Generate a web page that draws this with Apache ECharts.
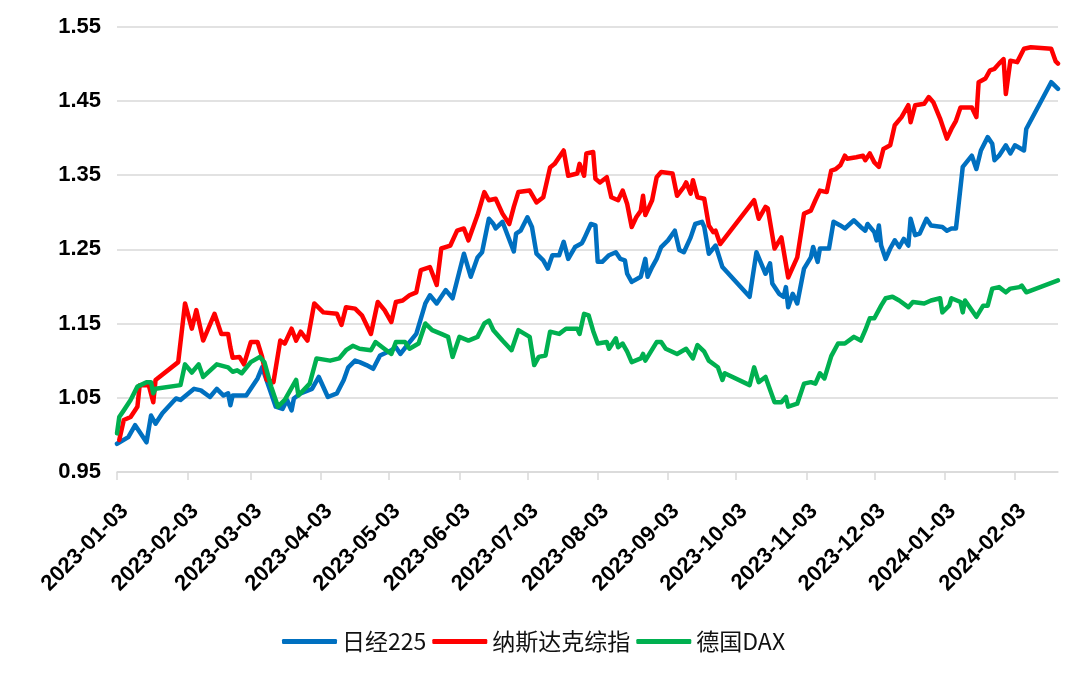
<!DOCTYPE html>
<html>
<head>
<meta charset="utf-8">
<script src="https://cdn.jsdelivr.net/npm/echarts@6/dist/echarts.min.js"></script>
<style>
html,body{margin:0;padding:0;background:#ffffff;}
#chart{width:1080px;height:675px;}
</style>
</head>
<body>
<div id="chart"></div>
<script>
const seriesNames = ['日经225', '纳斯达克综指', '德国DAX'];
const seriesColors = ['#0070C0', '#FF0000', '#00B050'];
const xMin = '2023-01-03';
const xMax = '2024-02-22';
const xTickDates = ['2023-01-03','2023-02-03','2023-03-03','2023-04-03','2023-05-03','2023-06-03','2023-07-03','2023-08-03','2023-09-03','2023-10-03','2023-11-03','2023-12-03','2024-01-03','2024-02-03'];
const yMin = 0.95, yMax = 1.55, yStep = 0.1;

const nikkei = [
['2023-01-03',0.988],['2023-01-08',0.997],['2023-01-11',1.013],['2023-01-13',1.004],['2023-01-16',0.990],['2023-01-18',1.026],['2023-01-20',1.015],['2023-01-23',1.029],['2023-01-29',1.049],['2023-01-31',1.047],['2023-02-06',1.062],['2023-02-09',1.060],['2023-02-13',1.051],['2023-02-16',1.062],['2023-02-19',1.053],['2023-02-21',1.056],['2023-02-22',1.040],['2023-02-23',1.053],['2023-03-01',1.053],['2023-03-06',1.076],['2023-03-08',1.091],['2023-03-14',1.038],['2023-03-17',1.035],['2023-03-19',1.047],['2023-03-21',1.033],['2023-03-22',1.049],['2023-03-25',1.056],['2023-03-30',1.062],['2023-04-02',1.078],['2023-04-06',1.051],['2023-04-10',1.056],['2023-04-13',1.074],['2023-04-15',1.091],['2023-04-18',1.100],['2023-04-20',1.098],['2023-04-23',1.094],['2023-04-26',1.089],['2023-04-29',1.107],['2023-05-04',1.114],['2023-05-06',1.118],['2023-05-08',1.109],['2023-05-11',1.121],['2023-05-15',1.136],['2023-05-19',1.177],['2023-05-21',1.188],['2023-05-24',1.177],['2023-05-28',1.195],['2023-05-31',1.184],['2023-06-05',1.244],['2023-06-08',1.213],['2023-06-11',1.239],['2023-06-13',1.246],['2023-06-16',1.291],['2023-06-18',1.284],['2023-06-19',1.278],['2023-06-22',1.287],['2023-06-27',1.247],['2023-06-28',1.271],['2023-06-30',1.275],['2023-07-03',1.293],['2023-07-05',1.280],['2023-07-07',1.244],['2023-07-10',1.235],['2023-07-12',1.224],['2023-07-14',1.242],['2023-07-17',1.242],['2023-07-19',1.260],['2023-07-21',1.237],['2023-07-24',1.253],['2023-07-27',1.258],['2023-07-28',1.264],['2023-07-31',1.284],['2023-08-02',1.282],['2023-08-03',1.233],['2023-08-05',1.233],['2023-08-08',1.242],['2023-08-11',1.246],['2023-08-13',1.237],['2023-08-15',1.235],['2023-08-16',1.217],['2023-08-18',1.206],['2023-08-22',1.213],['2023-08-24',1.237],['2023-08-25',1.213],['2023-08-27',1.226],['2023-08-29',1.237],['2023-08-31',1.253],['2023-09-03',1.262],['2023-09-06',1.275],['2023-09-08',1.249],['2023-09-10',1.246],['2023-09-13',1.266],['2023-09-15',1.284],['2023-09-18',1.287],['2023-09-19',1.280],['2023-09-21',1.244],['2023-09-24',1.255],['2023-09-27',1.226],['2023-10-09',1.186],['2023-10-12',1.246],['2023-10-16',1.217],['2023-10-18',1.231],['2023-10-19',1.204],['2023-10-22',1.190],['2023-10-24',1.186],['2023-10-25',1.199],['2023-10-26',1.172],['2023-10-28',1.190],['2023-10-30',1.177],['2023-11-02',1.224],['2023-11-05',1.239],['2023-11-06',1.253],['2023-11-08',1.233],['2023-11-09',1.251],['2023-11-13',1.251],['2023-11-15',1.287],['2023-11-18',1.282],['2023-11-20',1.278],['2023-11-24',1.289],['2023-11-27',1.280],['2023-11-29',1.275],['2023-11-30',1.284],['2023-12-03',1.273],['2023-12-04',1.262],['2023-12-05',1.282],['2023-12-06',1.255],['2023-12-08',1.237],['2023-12-10',1.251],['2023-12-12',1.262],['2023-12-14',1.253],['2023-12-16',1.264],['2023-12-18',1.255],['2023-12-19',1.291],['2023-12-21',1.269],['2023-12-23',1.271],['2023-12-26',1.291],['2023-12-28',1.282],['2024-01-02',1.280],['2024-01-04',1.275],['2024-01-06',1.278],['2024-01-08',1.278],['2024-01-11',1.361],['2024-01-15',1.376],['2024-01-17',1.358],['2024-01-19',1.383],['2024-01-22',1.401],['2024-01-24',1.392],['2024-01-25',1.370],['2024-01-27',1.376],['2024-01-30',1.390],['2024-02-01',1.379],['2024-02-03',1.390],['2024-02-07',1.383],['2024-02-08',1.412],['2024-02-19',1.475],['2024-02-22',1.466]
];

const nasdaq = [
['2023-01-04',0.993],['2023-01-06',1.020],['2023-01-09',1.024],['2023-01-12',1.038],['2023-01-13',1.067],['2023-01-17',1.067],['2023-01-19',1.044],['2023-01-20',1.074],['2023-01-30',1.098],['2023-02-02',1.177],['2023-02-05',1.143],['2023-02-07',1.168],['2023-02-10',1.127],['2023-02-15',1.163],['2023-02-18',1.136],['2023-02-21',1.136],['2023-02-22',1.118],['2023-02-23',1.104],['2023-02-26',1.105],['2023-02-28',1.095],['2023-03-03',1.125],['2023-03-06',1.125],['2023-03-08',1.105],['2023-03-10',1.074],['2023-03-13',1.071],['2023-03-16',1.127],['2023-03-18',1.123],['2023-03-21',1.143],['2023-03-23',1.127],['2023-03-25',1.139],['2023-03-28',1.127],['2023-03-31',1.177],['2023-04-04',1.165],['2023-04-10',1.163],['2023-04-12',1.148],['2023-04-14',1.172],['2023-04-18',1.170],['2023-04-21',1.161],['2023-04-25',1.136],['2023-04-28',1.179],['2023-05-01',1.168],['2023-05-04',1.152],['2023-05-06',1.179],['2023-05-09',1.181],['2023-05-12',1.188],['2023-05-15',1.192],['2023-05-17',1.222],['2023-05-21',1.226],['2023-05-24',1.202],['2023-05-26',1.251],['2023-05-30',1.255],['2023-06-02',1.275],['2023-06-05',1.278],['2023-06-07',1.262],['2023-06-11',1.296],['2023-06-14',1.327],['2023-06-16',1.316],['2023-06-19',1.318],['2023-06-22',1.298],['2023-06-25',1.284],['2023-06-27',1.307],['2023-06-29',1.327],['2023-07-04',1.329],['2023-07-07',1.313],['2023-07-10',1.320],['2023-07-13',1.360],['2023-07-15',1.365],['2023-07-19',1.383],['2023-07-21',1.349],['2023-07-25',1.352],['2023-07-26',1.365],['2023-07-28',1.349],['2023-07-29',1.379],['2023-08-01',1.381],['2023-08-02',1.345],['2023-08-04',1.340],['2023-08-07',1.347],['2023-08-09',1.320],['2023-08-12',1.316],['2023-08-14',1.329],['2023-08-16',1.311],['2023-08-18',1.280],['2023-08-20',1.293],['2023-08-22',1.302],['2023-08-23',1.322],['2023-08-24',1.296],['2023-08-27',1.316],['2023-08-29',1.347],['2023-08-31',1.354],['2023-09-05',1.352],['2023-09-07',1.322],['2023-09-10',1.334],['2023-09-11',1.340],['2023-09-13',1.325],['2023-09-14',1.343],['2023-09-16',1.320],['2023-09-19',1.318],['2023-09-21',1.282],['2023-09-23',1.273],['2023-09-24',1.275],['2023-09-26',1.257],['2023-10-11',1.316],['2023-10-13',1.291],['2023-10-16',1.307],['2023-10-17',1.305],['2023-10-20',1.251],['2023-10-23',1.266],['2023-10-26',1.212],['2023-10-30',1.239],['2023-11-02',1.298],['2023-11-05',1.302],['2023-11-07',1.316],['2023-11-09',1.329],['2023-11-12',1.327],['2023-11-14',1.356],['2023-11-16',1.358],['2023-11-18',1.363],['2023-11-20',1.376],['2023-11-21',1.372],['2023-11-25',1.374],['2023-11-28',1.376],['2023-11-29',1.370],['2023-12-01',1.379],['2023-12-03',1.367],['2023-12-05',1.361],['2023-12-07',1.385],['2023-12-10',1.390],['2023-12-12',1.417],['2023-12-15',1.428],['2023-12-18',1.444],['2023-12-19',1.421],['2023-12-21',1.444],['2023-12-25',1.446],['2023-12-27',1.455],['2023-12-29',1.448],['2024-01-01',1.426],['2024-01-04',1.399],['2024-01-06',1.412],['2024-01-08',1.423],['2024-01-10',1.441],['2024-01-15',1.441],['2024-01-17',1.428],['2024-01-18',1.475],['2024-01-21',1.480],['2024-01-23',1.491],['2024-01-25',1.493],['2024-01-27',1.500],['2024-01-29',1.506],['2024-01-30',1.459],['2024-02-01',1.504],['2024-02-04',1.502],['2024-02-07',1.520],['2024-02-10',1.522],['2024-02-19',1.520],['2024-02-21',1.503],['2024-02-22',1.500]
];

const dax = [
['2023-01-03',1.002],['2023-01-04',1.024],['2023-01-06',1.033],['2023-01-09',1.047],['2023-01-12',1.065],['2023-01-16',1.071],['2023-01-18',1.071],['2023-01-19',1.056],['2023-01-20',1.062],['2023-01-31',1.067],['2023-02-02',1.095],['2023-02-05',1.084],['2023-02-08',1.095],['2023-02-10',1.078],['2023-02-16',1.095],['2023-02-21',1.091],['2023-02-23',1.085],['2023-02-25',1.087],['2023-02-27',1.083],['2023-03-03',1.098],['2023-03-07',1.105],['2023-03-09',1.098],['2023-03-12',1.065],['2023-03-15',1.038],['2023-03-18',1.047],['2023-03-23',1.074],['2023-03-24',1.053],['2023-03-29',1.069],['2023-04-01',1.103],['2023-04-07',1.100],['2023-04-11',1.103],['2023-04-14',1.114],['2023-04-17',1.120],['2023-04-20',1.116],['2023-04-25',1.114],['2023-04-27',1.125],['2023-04-30',1.118],['2023-05-04',1.109],['2023-05-06',1.125],['2023-05-10',1.125],['2023-05-12',1.116],['2023-05-16',1.123],['2023-05-19',1.150],['2023-05-22',1.141],['2023-05-26',1.136],['2023-05-29',1.132],['2023-05-31',1.105],['2023-06-03',1.132],['2023-06-07',1.127],['2023-06-11',1.132],['2023-06-14',1.150],['2023-06-16',1.154],['2023-06-18',1.141],['2023-06-22',1.127],['2023-06-26',1.114],['2023-06-29',1.141],['2023-07-04',1.132],['2023-07-06',1.094],['2023-07-08',1.105],['2023-07-11',1.107],['2023-07-13',1.139],['2023-07-17',1.136],['2023-07-20',1.143],['2023-07-25',1.143],['2023-07-26',1.136],['2023-07-28',1.163],['2023-07-30',1.161],['2023-08-01',1.140],['2023-08-03',1.123],['2023-08-07',1.125],['2023-08-08',1.116],['2023-08-11',1.130],['2023-08-12',1.118],['2023-08-14',1.123],['2023-08-16',1.112],['2023-08-18',1.098],['2023-08-22',1.103],['2023-08-23',1.109],['2023-08-24',1.100],['2023-08-29',1.125],['2023-08-31',1.125],['2023-09-02',1.116],['2023-09-07',1.109],['2023-09-11',1.116],['2023-09-14',1.103],['2023-09-16',1.121],['2023-09-19',1.112],['2023-09-21',1.100],['2023-09-25',1.091],['2023-09-27',1.074],['2023-09-28',1.083],['2023-10-09',1.067],['2023-10-11',1.091],['2023-10-13',1.071],['2023-10-16',1.078],['2023-10-20',1.044],['2023-10-23',1.044],['2023-10-25',1.051],['2023-10-26',1.038],['2023-10-30',1.042],['2023-11-02',1.069],['2023-11-05',1.071],['2023-11-07',1.069],['2023-11-09',1.083],['2023-11-11',1.076],['2023-11-14',1.106],['2023-11-17',1.123],['2023-11-20',1.123],['2023-11-24',1.132],['2023-11-27',1.127],['2023-11-29',1.141],['2023-12-01',1.157],['2023-12-03',1.157],['2023-12-06',1.174],['2023-12-08',1.184],['2023-12-11',1.186],['2023-12-14',1.181],['2023-12-18',1.172],['2023-12-20',1.179],['2023-12-25',1.177],['2023-12-28',1.181],['2024-01-01',1.184],['2024-01-02',1.165],['2024-01-05',1.174],['2024-01-06',1.184],['2024-01-10',1.179],['2024-01-11',1.165],['2024-01-12',1.181],['2024-01-17',1.159],['2024-01-20',1.174],['2024-01-22',1.174],['2024-01-24',1.197],['2024-01-27',1.199],['2024-01-30',1.192],['2024-02-01',1.197],['2024-02-05',1.199],['2024-02-06',1.201],['2024-02-08',1.192],['2024-02-22',1.208]
];

function parseDate(s) {
  const p = s.split('-').map(Number);
  return new Date(p[0], p[1] - 1, p[2]).getTime();
}
function fmtDate(v) {
  const d = new Date(v);
  return d.getFullYear() + '-' + String(d.getMonth() + 1).padStart(2, '0') + '-' + String(d.getDate()).padStart(2, '0');
}
function toData(arr) { return arr.map(p => [parseDate(p[0]), p[1]]); }

const tickValues = xTickDates.map(parseDate);
const seriesValues = [nikkei, nasdaq, dax];
const axisFont = { fontFamily: 'Liberation Sans', fontWeight: 'bold', fontSize: 22, color: '#000000' };

const chart = echarts.init(document.getElementById('chart'), null, { renderer: 'canvas' });
chart.setOption({
  animation: false,
  backgroundColor: '#ffffff',
  grid: { left: 117, right: 22, top: 26.5, bottom: 203, outerBoundsMode: 'none' },
  legend: {
    data: seriesNames,
    left: 277,
    top: 625,
    icon: 'roundRect',
    itemWidth: 55,
    itemHeight: 5,
    itemGap: 6,
    textStyle: { fontFamily: 'Noto Sans CJK SC', fontSize: 23, color: '#111111' }
  },
  xAxis: {
    type: 'value',
    min: parseDate(xMin),
    max: parseDate(xMax),
    axisLine: { lineStyle: { color: '#D9D9D9', width: 1.5 } },
    axisTick: { show: true, length: 8, customValues: tickValues, lineStyle: { color: '#D9D9D9', width: 1.5 } },
    axisLabel: Object.assign({
      customValues: tickValues,
      formatter: fmtDate,
      rotate: 45,
      margin: 28,
      align: 'right',
      verticalAlign: 'top',
      hideOverlap: false,
      showMinLabel: true,
      showMaxLabel: true
    }, axisFont),
    splitLine: { show: false }
  },
  yAxis: {
    type: 'value',
    min: yMin,
    max: yMax,
    interval: yStep,
    axisLine: { show: false },
    axisTick: { show: false },
    axisLabel: Object.assign({ margin: 16, formatter: v => v.toFixed(2) }, axisFont),
    splitLine: { lineStyle: { color: '#D9D9D9', width: 1.5 } }
  },
  series: seriesNames.map((name, i) => ({
    name: name,
    type: 'line',
    data: toData(seriesValues[i]),
    symbol: 'none',
    showSymbol: false,
    smooth: false,
    color: seriesColors[i],
    lineStyle: { width: 4.5, color: seriesColors[i], join: 'round', cap: 'round' },
    emphasis: { disabled: true }
  }))
});
</script>
</body>
</html>
